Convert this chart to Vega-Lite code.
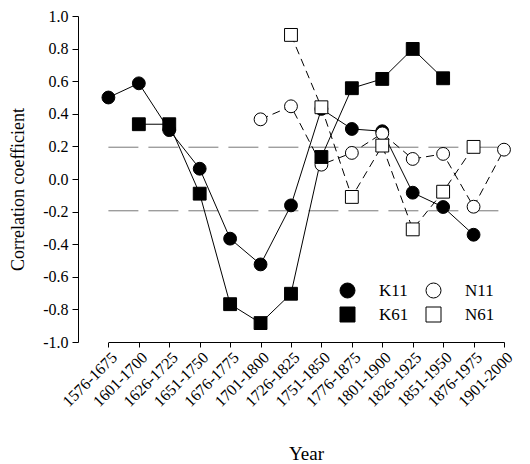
{
  "$schema": "https://vega.github.io/schema/vega-lite/v6.json",
  "width": 452,
  "height": 326,
  "autosize": {"type": "none"},
  "padding": {"left": 78, "top": 16, "right": 0, "bottom": 122},
  "config": {
    "view": {"stroke": null},
    "font": "Liberation Serif",
    "axis": {"labelFont": "Liberation Serif", "titleFont": "Liberation Serif", "labelColor": "black", "titleColor": "black", "domainColor": "black", "tickColor": "black", "grid": false, "titleFontWeight": "normal"},
    "legend": {"labelFont": "Liberation Serif"}
  },
  "datasets": {
    "pts": [
      {"period": "1576-1675", "series": "K11", "r": 0.50},
      {"period": "1601-1700", "series": "K11", "r": 0.587},
      {"period": "1626-1725", "series": "K11", "r": 0.30},
      {"period": "1651-1750", "series": "K11", "r": 0.063},
      {"period": "1676-1775", "series": "K11", "r": -0.366},
      {"period": "1701-1800", "series": "K11", "r": -0.524},
      {"period": "1726-1825", "series": "K11", "r": -0.162},
      {"period": "1751-1850", "series": "K11", "r": 0.43},
      {"period": "1776-1875", "series": "K11", "r": 0.307},
      {"period": "1801-1900", "series": "K11", "r": 0.293},
      {"period": "1826-1925", "series": "K11", "r": -0.084},
      {"period": "1851-1950", "series": "K11", "r": -0.172},
      {"period": "1876-1975", "series": "K11", "r": -0.342},
      {"period": "1701-1800", "series": "N11", "r": 0.366},
      {"period": "1726-1825", "series": "N11", "r": 0.446},
      {"period": "1751-1850", "series": "N11", "r": 0.088},
      {"period": "1776-1875", "series": "N11", "r": 0.16},
      {"period": "1801-1900", "series": "N11", "r": 0.28},
      {"period": "1826-1925", "series": "N11", "r": 0.123},
      {"period": "1851-1950", "series": "N11", "r": 0.154},
      {"period": "1876-1975", "series": "N11", "r": -0.17},
      {"period": "1901-2000", "series": "N11", "r": 0.18},
      {"period": "1601-1700", "series": "K61", "r": 0.336},
      {"period": "1626-1725", "series": "K61", "r": 0.336},
      {"period": "1651-1750", "series": "K61", "r": -0.09},
      {"period": "1676-1775", "series": "K61", "r": -0.768},
      {"period": "1701-1800", "series": "K61", "r": -0.884},
      {"period": "1726-1825", "series": "K61", "r": -0.704},
      {"period": "1751-1850", "series": "K61", "r": 0.135},
      {"period": "1776-1875", "series": "K61", "r": 0.557},
      {"period": "1801-1900", "series": "K61", "r": 0.614},
      {"period": "1826-1925", "series": "K61", "r": 0.798},
      {"period": "1851-1950", "series": "K61", "r": 0.618},
      {"period": "1726-1825", "series": "N61", "r": 0.884},
      {"period": "1751-1850", "series": "N61", "r": 0.44},
      {"period": "1776-1875", "series": "N61", "r": -0.11},
      {"period": "1801-1900", "series": "N61", "r": 0.205},
      {"period": "1826-1925", "series": "N61", "r": -0.309},
      {"period": "1851-1950", "series": "N61", "r": -0.078},
      {"period": "1876-1975", "series": "N61", "r": 0.197}
    ],
    "thresholds": [
      {"start": "1576-1675", "end": "1901-2000", "r": 0.195},
      {"start": "1576-1675", "end": "1901-2000", "r": -0.195}
    ]
  },
  "encoding": {
    "x": {
      "field": "period", "type": "ordinal",
      "scale": {"type": "point", "padding": 0, "domain": ["1576-1675","1601-1700","1626-1725","1651-1750","1676-1775","1701-1800","1726-1825","1751-1850","1776-1875","1801-1900","1826-1925","1851-1950","1876-1975","1901-2000"], "range": [30.4, 426]},
      "axis": {"title": "Year", "labelAngle": -45, "labelFontSize": 16, "tickSize": 5, "labelPadding": 2, "titleFontSize": 19, "titleBaseline": "alphabetic", "titleY": 117, "titleX": 228}
    },
    "y": {
      "field": "r", "type": "quantitative",
      "scale": {"domain": [-1, 1], "nice": false, "zero": false},
      "axis": {"title": "Correlation coefficient", "values": [-1, -0.8, -0.6, -0.4, -0.2, 0, 0.2, 0.4, 0.6, 0.8, 1], "labelExpr": "replace(format(datum.value, '.1f'), '\u2212', '-')", "labelFontSize": 16, "tickSize": 6, "labelPadding": 4, "titleFontSize": 18, "titleX": -60, "titleY": 173, "titleBaseline": "middle", "titleAlign": "center"}
    }
  },
  "layer": [
    {
      "mark": {"type": "rule", "color": "#555555", "strokeWidth": 1.5},
      "encoding": {"x": null, "y": {"datum": 1}}
    },
    {
      "mark": {"type": "rule", "color": "#555555", "strokeWidth": 1.5},
      "encoding": {"x": null, "y": {"datum": 0}}
    },
    {
      "data": {"name": "thresholds"},
      "mark": {"type": "rule", "color": "#777777", "strokeWidth": 1, "strokeDash": [30, 10]},
      "encoding": {"x": {"field": "start", "type": "ordinal"}, "x2": {"field": "end"}, "y": {"field": "r", "type": "quantitative"}}
    },
    {
      "data": {"name": "pts"},
      "transform": [{"filter": "datum.series == 'K11' || datum.series == 'K61'"}],
      "mark": {"type": "line", "color": "black", "strokeWidth": 1},
      "encoding": {"detail": {"field": "series", "type": "nominal"}}
    },
    {
      "data": {"name": "pts"},
      "transform": [{"filter": "datum.series == 'N11' || datum.series == 'N61'"}],
      "mark": {"type": "line", "color": "black", "strokeWidth": 1, "strokeDash": [8, 5]},
      "encoding": {"detail": {"field": "series", "type": "nominal"}}
    },
    {
      "data": {"name": "pts"},
      "mark": {"type": "point", "filled": true, "stroke": "black", "strokeWidth": 1, "opacity": 1, "size": 165},
      "encoding": {
        "shape": {"field": "series", "type": "nominal", "scale": {"domain": ["K11", "N11", "K61", "N61"], "range": ["circle", "circle", "square", "square"]},
          "legend": {
            "title": null, "orient": "none", "legendX": 261, "legendY": 266, "columns": 2,
            "values": ["K11", "K61", "N11", "N61"],
            "symbolSize": 225, "labelFontSize": 17, "labelColor": "black", "labelOffset": 23,
            "rowPadding": 5, "columnPadding": 15, "padding": 0,
            "symbolStrokeWidth": 1, "symbolOpacity": 1,
            "encode": {
              "symbols": {
                "fill": {"condition": {"test": "datum.value == 'N11' || datum.value == 'N61'", "value": "white"}, "value": "black"},
                "stroke": {"value": "black"},
                "strokeWidth": {"value": 1}
              }
            }
          }
        },
        "fill": {"field": "series", "type": "nominal", "scale": {"domain": ["K11", "N11", "K61", "N61"], "range": ["black", "white", "black", "white"]}}
      }
    }
  ]
}
